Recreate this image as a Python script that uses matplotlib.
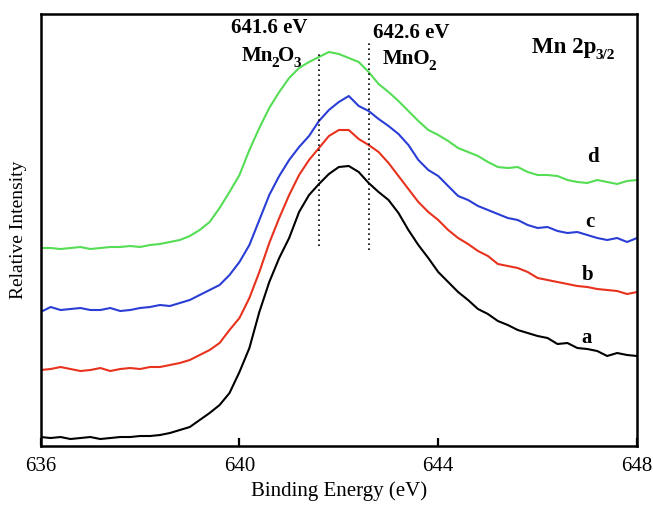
import numpy as np
import matplotlib
matplotlib.use('Agg')
import matplotlib.pyplot as plt

plt.rcParams['font.family'] = 'Liberation Serif'

# binding energy grid (eV), 0.2 eV steps
energy = np.round(np.arange(636.0, 648.01, 0.2), 1)

# relative intensity (arbitrary units, stacked)
curve_a = [9, 8, 9, 7, 8, 9, 7, 8, 9, 9,
           10, 10, 11, 13, 16, 19, 26, 33, 41, 53,
           74, 98, 134, 164, 188, 208, 234, 251, 262, 272,
           279, 280, 274, 263, 254, 246, 233, 216, 201, 188,
           174, 164, 154, 146, 137, 132, 125, 121, 116, 113,
           110, 108, 102, 103, 98, 97, 95, 90, 93, 91, 90]
curve_b = [76, 77, 79, 77, 75, 76, 78, 75, 77, 78,
           77, 79, 79, 81, 83, 86, 91, 96, 103, 116,
           128, 148, 174, 203, 228, 251, 271, 286, 298, 310,
           316, 316, 307, 301, 294, 283, 270, 257, 244, 234,
           226, 216, 208, 202, 195, 190, 182, 180, 178, 174,
           168, 166, 164, 162, 160, 159, 157, 156, 155, 152, 154]
curve_c = [134, 139, 136, 137, 138, 136, 136, 138, 135, 136,
           138, 139, 141, 140, 143, 146, 151, 156, 161, 171,
           184, 201, 226, 251, 270, 286, 299, 310, 325, 336,
           344, 350, 340, 335, 327, 320, 312, 301, 286, 276,
           270, 260, 250, 246, 240, 236, 232, 228, 226, 221,
           218, 219, 215, 213, 214, 211, 208, 206, 208, 204, 208]
curve_d = [198, 198, 197, 198, 199, 197, 198, 199, 199, 200,
           199, 201, 202, 204, 206, 210, 216, 224, 238, 254,
           271, 296, 318, 338, 354, 368, 378, 384, 389, 394,
           392, 388, 384, 374, 362, 354, 345, 335, 325, 316,
           311, 305, 298, 294, 290, 284, 279, 278, 279, 274,
           271, 271, 270, 266, 264, 263, 266, 264, 262, 265, 266]

labels = ['a', 'b', 'c', 'd']
colors = ['black', '#e8321e', '#2a3ed6', '#55dd55']
label_pos = [(646.99, 108), (647.01, 171), (647.05, 224), (647.11, 289)]


def chem_label(ax, x, y, parts, size=15, sub_size=11):
    # parts: list of (text, is_subscript); drawn left to right on one baseline
    prev = ax.text(x, y, parts[0][0], fontsize=size, fontweight='bold',
                   ha='left', va='baseline')
    for txt, sub in parts[1:]:
        prev = ax.annotate(txt, xy=(1, y), xycoords=(prev, 'data'),
                           xytext=(-1, -4) if sub else (-0.5, 0), textcoords='offset points',
                           fontsize=sub_size if sub else size, fontweight='bold',
                           ha='left', va='baseline')


fig = plt.figure(figsize=(6.53, 5.05), dpi=100)
ax = fig.add_axes([0.0623, 0.1168, 0.9132, 0.8555])

for y, c in zip([curve_a, curve_b, curve_c, curve_d], colors):
    ax.plot(energy, y, color=c, lw=1.5)

for lab, (x, y) in zip(labels, label_pos):
    ax.text(x, y, lab, fontsize=15, fontweight='bold', ha='center', va='center')

# reference positions
ax.vlines(641.6, 200, 394, colors='black', linestyles=(0, (1, 2)), lw=1.2)
ax.vlines(642.6, 196, 404, colors='black', linestyles=(0, (1, 2)), lw=1.2)
ax.text(640.59, 418, '641.6 eV', fontsize=15, fontweight='bold', ha='center', va='center')
ax.text(643.45, 413, '642.6 eV', fontsize=15, fontweight='bold', ha='center', va='center')
chem_label(ax, 640.04, 385, [('Mn', False), ('2', True), ('O', False), ('3', True)])
chem_label(ax, 642.88, 382, [('MnO', False), ('2', True)])
chem_label(ax, 645.89, 393, [('Mn 2p', False), ('3/2', True)], size=16.5)

ax.set_xlim(636, 648)
ax.set_ylim(0, 432)
ax.set_xticks([636, 640, 644, 648])
ax.set_yticks([])
ax.tick_params(axis='x', direction='in', length=6, width=1.6, labelsize=15, pad=8)
for s in ax.spines.values():
    s.set_linewidth(1.8)

ax.set_xlabel('Binding Energy (eV)', fontsize=15, labelpad=4)
ax.set_ylabel('Relative Intensity', fontsize=14, labelpad=10)

plt.savefig('out.png', dpi=100)
